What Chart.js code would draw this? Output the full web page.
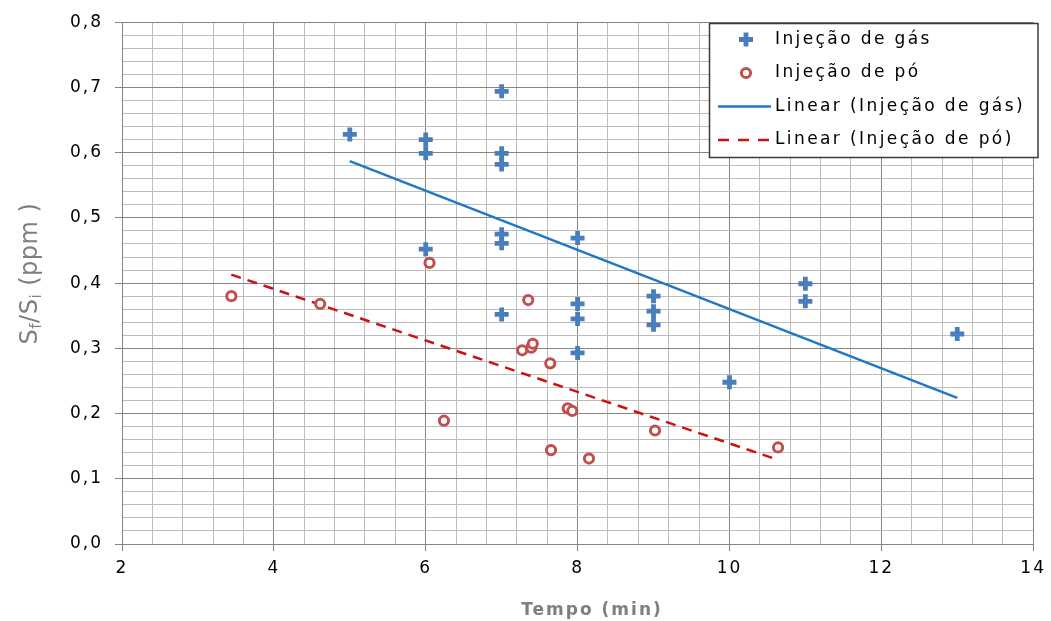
<!DOCTYPE html>
<html>
<head>
  <title>Sf/Si x Tempo</title>
  <style>
    body {
      margin: 0;
      background: #fff;
    }
    #chartContainer {
      width: 1051px;
      height: 621px;
    }
  </style>
</head>
<body>
  <div id="chartContainer">
    <canvas id="sulfurChart" width="1051" height="621"></canvas>
  </div>

  <script src="https://cdn.jsdelivr.net/npm/chart.js"></script>
  <script>
    // Injeção de gás (Tempo, Sf/Si)
    const gasX = [5, 6, 6, 6, 7, 7, 7, 7, 7, 7, 8, 8, 8, 8, 9, 9, 9, 10, 11, 11, 13];
    const gasY = [0.628, 0.620, 0.599, 0.452, 0.694, 0.599, 0.582, 0.475, 0.461, 0.352,
                  0.469, 0.368, 0.345, 0.293, 0.380, 0.357, 0.336, 0.248, 0.399, 0.372, 0.322];

    // Injeção de pó
    const poX = [3.44, 4.61, 6.05, 6.24, 7.27, 7.35, 7.39, 7.41, 7.64, 7.65, 7.87, 7.93, 8.15, 9.02, 10.64];
    const poY = [0.380, 0.368, 0.431, 0.189, 0.297, 0.374, 0.301, 0.307, 0.277, 0.144,
                 0.208, 0.204, 0.131, 0.174, 0.148];

    // linhas de tendência (extremos)
    const gasTrendX = [5, 13];
    const gasTrendY = [0.587, 0.224];
    const poTrendX = [3.44, 10.64];
    const poTrendY = [0.413, 0.129];

    const xTickValues = [2, 4, 6, 8, 10, 12, 14];
    const xTickLabels = ['2', '4', '6', '8', '10', '12', '14'];
    const yTickValues = [0, 0.1, 0.2, 0.3, 0.4, 0.5, 0.6, 0.7, 0.8];
    const yTickLabels = ['0,0', '0,1', '0,2', '0,3', '0,4', '0,5', '0,6', '0,7', '0,8'];
    const minorPerMajor = 5;

    const seriesNames = ['Injeção de gás', 'Injeção de pó', 'Linear (Injeção de gás)', 'Linear (Injeção de pó)'];

    const MAJOR = '#848484';
    const MINOR = '#bdbdbd';
    const FONT = 'DejaVu Sans';

    function toPoints(xs, ys) {
      return xs.map((x, i) => ({ x: x, y: ys[i] }));
    }

    // major ticks plus 4 minor lines between each pair
    function withMinor(majors) {
      const out = [];
      for (let i = 0; i < majors.length - 1; i++) {
        const step = (majors[i + 1] - majors[i]) / minorPerMajor;
        for (let k = 0; k < minorPerMajor; k++) {
          out.push({ value: +(majors[i] + k * step).toFixed(6) });
        }
      }
      out.push({ value: majors[majors.length - 1] });
      return out;
    }

    function majorIndex(majors, v) {
      return majors.findIndex(m => Math.abs(m - v) < 1e-6);
    }

    function gridColor(majors) {
      return c => (c.tick && majorIndex(majors, c.tick.value) >= 0) ? MAJOR : MINOR;
    }
    function tickColor(majors) {
      return c => (c.tick && majorIndex(majors, c.tick.value) >= 0) ? MAJOR : 'rgba(0,0,0,0)';
    }

    const excelText = {
      id: 'excelText',
      beforeDraw(chart) {
        const ctx = chart.ctx;
        ctx.save();
        ctx.fillStyle = '#fff';
        ctx.fillRect(0, 0, chart.width, chart.height);
        ctx.restore();
        ctx.letterSpacing = '2px';
      },
      afterDraw(chart) {
        const ctx = chart.ctx;
        const ds = chart.data.datasets;
        ctx.save();

        // legenda
        ctx.letterSpacing = '0px';
        ctx.fillStyle = '#fff';
        ctx.fillRect(709, 23, 329, 134);
        ctx.strokeStyle = '#3a3a3a';
        ctx.lineWidth = 1.5;
        ctx.strokeRect(709.5, 23.5, 328.5, 134);

        const rows = [39.5, 73, 106.5, 140];
        const mx = 746;

        ctx.strokeStyle = ds[0].borderColor;
        ctx.lineWidth = ds[0].pointBorderWidth;
        ctx.beginPath();
        ctx.moveTo(mx - 7, rows[0]); ctx.lineTo(mx + 7, rows[0]);
        ctx.moveTo(mx, rows[0] - 7); ctx.lineTo(mx, rows[0] + 7);
        ctx.stroke();

        ctx.strokeStyle = ds[1].borderColor;
        ctx.lineWidth = ds[1].pointBorderWidth;
        ctx.fillStyle = '#fff';
        ctx.beginPath();
        ctx.arc(mx, rows[1], ds[1].pointRadius, 0, Math.PI * 2);
        ctx.fill();
        ctx.stroke();

        ctx.strokeStyle = ds[2].borderColor;
        ctx.lineWidth = ds[2].borderWidth;
        ctx.beginPath();
        ctx.moveTo(718, rows[2]); ctx.lineTo(771, rows[2]);
        ctx.stroke();

        ctx.strokeStyle = ds[3].borderColor;
        ctx.lineWidth = ds[3].borderWidth;
        ctx.setLineDash([11, 9]);
        ctx.beginPath();
        ctx.moveTo(718, rows[3]); ctx.lineTo(771, rows[3]);
        ctx.stroke();
        ctx.setLineDash([]);

        ctx.fillStyle = '#000';
        ctx.font = '17px "' + FONT + '"';
        ctx.textBaseline = 'middle';
        ctx.textAlign = 'left';
        ctx.letterSpacing = '2.4px';
        seriesNames.forEach((name, i) => ctx.fillText(name, 775, rows[i]));

        // título do eixo x
        ctx.fillStyle = '#7f7f7f';
        ctx.font = 'bold 17px "' + FONT + '"';
        ctx.textAlign = 'center';
        ctx.textBaseline = 'alphabetic';
        ctx.letterSpacing = '2px';
        ctx.fillText('Tempo (min)', 592, 615);

        // título do eixo y, com subscritos
        ctx.letterSpacing = '0.5px';
        ctx.textAlign = 'left';
        const big = '24px "' + FONT + '"';
        const small = '15px "' + FONT + '"';
        const parts = [['S', big, 0], ['f', small, 4], ['/S', big, 0], ['i', small, 4], [' (ppm )', big, 0]];
        let total = 0;
        parts.forEach(p => { ctx.font = p[1]; total += ctx.measureText(p[0]).width; });
        ctx.translate(36.5, 273.5);
        ctx.rotate(-Math.PI / 2);
        let pos = -total / 2;
        parts.forEach(p => {
          ctx.font = p[1];
          ctx.fillText(p[0], pos, p[2]);
          pos += ctx.measureText(p[0]).width;
        });

        ctx.restore();
      }
    };

    const ctx = document.getElementById('sulfurChart').getContext('2d');

    new Chart(ctx, {
      type: 'scatter',
      data: {
        datasets: [
          {
            label: seriesNames[0],
            data: toPoints(gasX, gasY),
            pointStyle: 'cross',
            pointRadius: 7,
            pointBorderWidth: 4.8,
            borderColor: '#4a7ebb',
            backgroundColor: '#4a7ebb',
            order: 1
          },
          {
            label: seriesNames[1],
            data: toPoints(poX, poY),
            pointStyle: 'circle',
            pointRadius: 4.6,
            pointBorderWidth: 3,
            borderColor: '#c0504d',
            backgroundColor: '#ffffff',
            order: 1
          },
          {
            label: seriesNames[2],
            data: toPoints(gasTrendX, gasTrendY),
            showLine: true,
            pointRadius: 0,
            borderWidth: 2.5,
            borderColor: '#1f78c6',
            order: 2
          },
          {
            label: seriesNames[3],
            data: toPoints(poTrendX, poTrendY),
            showLine: true,
            pointRadius: 0,
            borderWidth: 2.5,
            borderDash: [10, 7],
            borderColor: '#cc1111',
            order: 2
          }
        ]
      },
      options: {
        responsive: false,
        animation: false,
        devicePixelRatio: 1,
        events: [],
        layout: {
          padding: { top: 22, right: 16, left: 0, bottom: 0 }
        },
        plugins: {
          legend: { display: false },
          tooltip: { enabled: false }
        },
        scales: {
          x: {
            type: 'linear',
            min: 2,
            max: 14,
            afterBuildTicks: s => { s.ticks = withMinor(xTickValues); },
            afterFit: s => { s.height = 77; },
            ticks: {
              autoSkip: false,
              maxRotation: 0,
              padding: 7,
              color: '#000',
              font: { family: FONT, size: 17 },
              callback: v => {
                const i = majorIndex(xTickValues, v);
                return i >= 0 ? xTickLabels[i] : '';
              }
            },
            grid: {
              color: gridColor(xTickValues),
              tickColor: tickColor(xTickValues),
              tickLength: 7,
              lineWidth: 1
            },
            border: { color: MAJOR, width: 1 }
          },
          y: {
            type: 'linear',
            min: 0,
            max: 0.8,
            afterBuildTicks: s => { s.ticks = withMinor(yTickValues); },
            afterFit: s => { s.width = 122; },
            ticks: {
              autoSkip: false,
              padding: 12,
              color: '#000',
              font: { family: FONT, size: 17 },
              callback: v => {
                const i = majorIndex(yTickValues, v);
                return i >= 0 ? yTickLabels[i] : '';
              }
            },
            grid: {
              color: gridColor(yTickValues),
              tickColor: tickColor(yTickValues),
              tickLength: 7,
              lineWidth: 1
            },
            border: { color: MAJOR, width: 1 }
          }
        }
      },
      plugins: [excelText]
    });
  </script>
</body>
</html>
